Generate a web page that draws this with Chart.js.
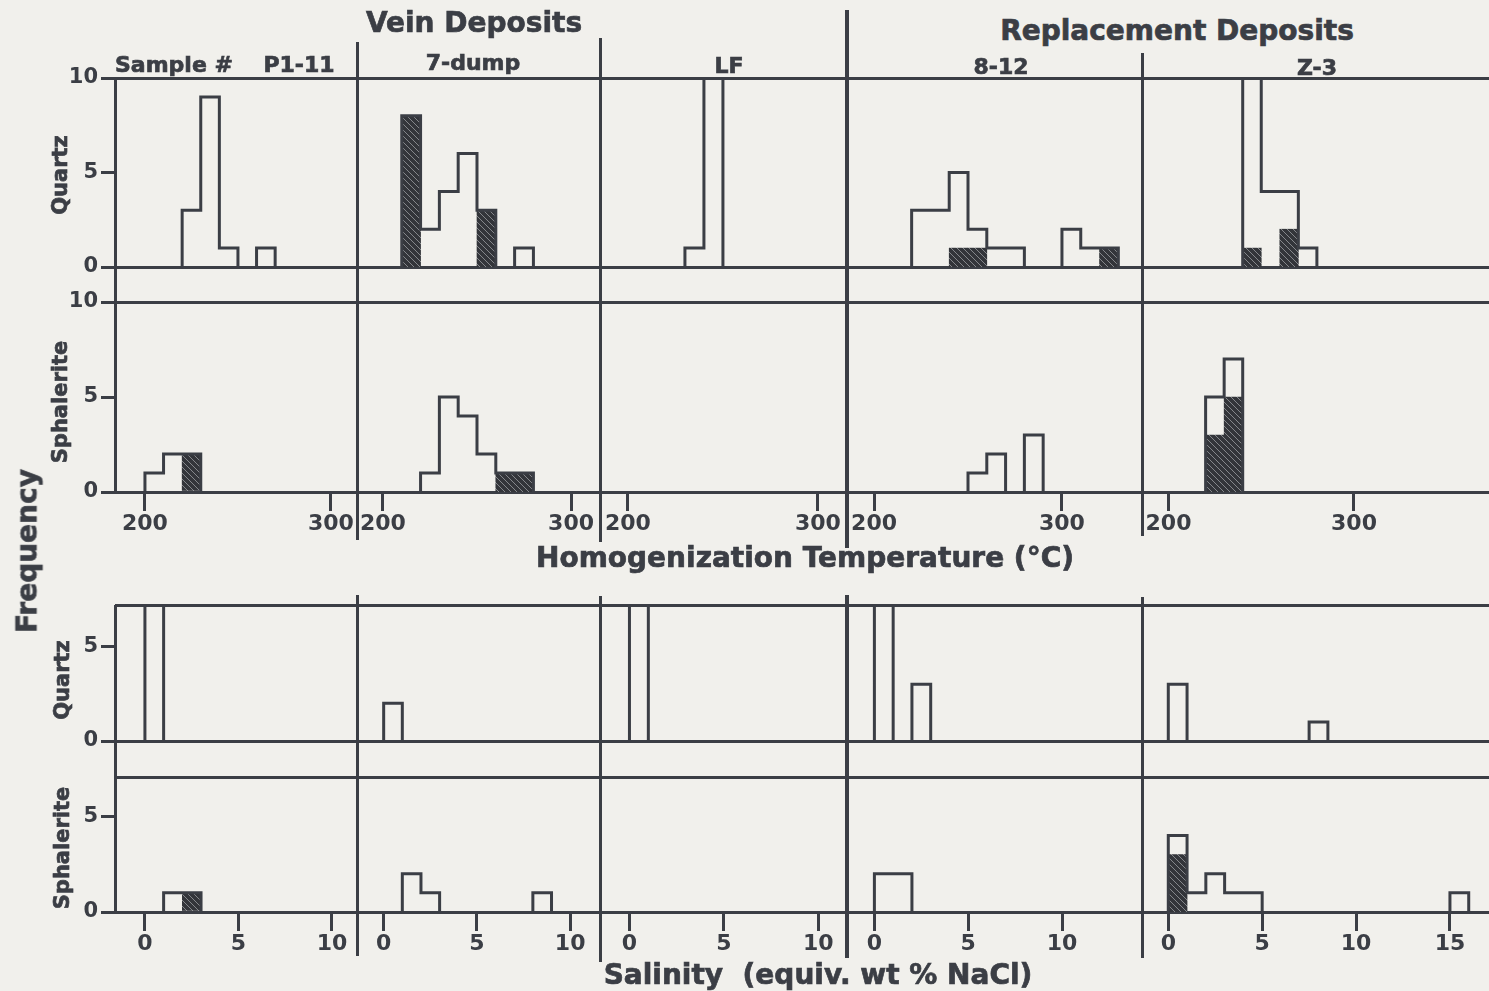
<!DOCTYPE html>
<html>
<head>
<meta charset="utf-8">
<title>Fluid inclusion histograms</title>
<script src="https://cdn.jsdelivr.net/npm/chart.js"></script>
<style>
  body { margin: 0; background: #f1f0ec; }
  #fig { position: relative; width: 1489px; height: 991px; overflow: hidden;
         font-family: "DejaVu Sans", sans-serif; font-weight: bold; color: #3b3e45; }
  #fig canvas { position: absolute; }
  .lbl { position: absolute; white-space: pre; transform: translate(-50%, -50%);
         -webkit-text-stroke: 0.7px #3b3e45; }
  .rot { transform: translate(-50%, -50%) rotate(-90deg); }
  .rule { position: absolute; background: #3b3e45; }
</style>
</head>
<body>
<div id="fig"></div>
<script>
const INK = "#3b3e45";

// ---- categories ----
const samples = ["P1-11", "7-dump", "LF", "8-12", "Z-3"];
const minerals = ["Quartz", "Sphalerite"];

// ---- tick labels ----
const tempTicks = [200, 300];
const salTicks = [0, 5, 10];
const salTicksZ3 = [0, 5, 10, 15];
const freqTicksT = [0, 5, 10];
const freqTicksS = [0, 5];

// ---- quartz, homogenization temperature (10 C bins: bin start, count, hatched part) ----
const qT_P1_bins = [220, 230, 240, 260];
const qT_P1_n    = [3, 9, 1, 1];
const qT_P1_hat  = [0, 0, 0, 0];
const qT_7d_bins = [210, 220, 230, 240, 250, 270];
const qT_7d_n    = [8, 2, 4, 6, 3, 1];
const qT_7d_hat  = [8, 0, 0, 0, 3, 0];
const qT_LF_bins = [230, 240];
const qT_LF_n    = [1, 10];
const qT_LF_hat  = [0, 0];
const qT_812_bins = [220, 230, 240, 250, 260, 270, 300, 310, 320];
const qT_812_n    = [3, 3, 5, 2, 1, 1, 2, 1, 1];
const qT_812_hat  = [0, 0, 1, 1, 0, 0, 0, 0, 1];
const qT_Z3_bins = [240, 250, 260, 270];
const qT_Z3_n    = [10, 4, 4, 1];
const qT_Z3_hat  = [1, 0, 2, 0];

// ---- sphalerite, homogenization temperature ----
const sT_P1_bins = [200, 210, 220];
const sT_P1_n    = [1, 2, 2];
const sT_P1_hat  = [0, 0, 2];
const sT_7d_bins = [220, 230, 240, 250, 260, 270];
const sT_7d_n    = [1, 5, 4, 2, 1, 1];
const sT_7d_hat  = [0, 0, 0, 0, 1, 1];
const sT_LF_bins = [];
const sT_LF_n    = [];
const sT_LF_hat  = [];
const sT_812_bins = [250, 260, 280];
const sT_812_n    = [1, 2, 3];
const sT_812_hat  = [0, 0, 0];
const sT_Z3_bins = [220, 230];
const sT_Z3_n    = [5, 7];
const sT_Z3_hat  = [3, 5];

// ---- quartz, salinity (1 wt% bins); 8 = off scale ----
const qS_P1_bins = [0];
const qS_P1_n    = [8];
const qS_P1_hat  = [0];
const qS_7d_bins = [0];
const qS_7d_n    = [2];
const qS_7d_hat  = [0];
const qS_LF_bins = [0];
const qS_LF_n    = [8];
const qS_LF_hat  = [0];
const qS_812_bins = [0, 2];
const qS_812_n    = [8, 3];
const qS_812_hat  = [0, 0];
const qS_Z3_bins = [0, 7.5];
const qS_Z3_n    = [3, 1];
const qS_Z3_hat  = [0, 0];

// ---- sphalerite, salinity ----
const sS_P1_bins = [1, 2];
const sS_P1_n    = [1, 1];
const sS_P1_hat  = [0, 1];
const sS_7d_bins = [1, 2, 8];
const sS_7d_n    = [2, 1, 1];
const sS_7d_hat  = [0, 0, 0];
const sS_LF_bins = [];
const sS_LF_n    = [];
const sS_LF_hat  = [];
const sS_812_bins = [0, 1];
const sS_812_n    = [2, 2];
const sS_812_hat  = [0, 0];
const sS_Z3_bins = [0, 1, 2, 3, 4, 15];
const sS_Z3_n    = [4, 1, 2, 1, 1, 1];
const sS_Z3_hat  = [3, 0, 0, 0, 0, 0];

// table of panels, row by row
const rowsData = [
  [[qT_P1_bins, qT_P1_n, qT_P1_hat], [qT_7d_bins, qT_7d_n, qT_7d_hat], [qT_LF_bins, qT_LF_n, qT_LF_hat],
   [qT_812_bins, qT_812_n, qT_812_hat], [qT_Z3_bins, qT_Z3_n, qT_Z3_hat]],
  [[sT_P1_bins, sT_P1_n, sT_P1_hat], [sT_7d_bins, sT_7d_n, sT_7d_hat], [sT_LF_bins, sT_LF_n, sT_LF_hat],
   [sT_812_bins, sT_812_n, sT_812_hat], [sT_Z3_bins, sT_Z3_n, sT_Z3_hat]],
  [[qS_P1_bins, qS_P1_n, qS_P1_hat], [qS_7d_bins, qS_7d_n, qS_7d_hat], [qS_LF_bins, qS_LF_n, qS_LF_hat],
   [qS_812_bins, qS_812_n, qS_812_hat], [qS_Z3_bins, qS_Z3_n, qS_Z3_hat]],
  [[sS_P1_bins, sS_P1_n, sS_P1_hat], [sS_7d_bins, sS_7d_n, sS_7d_hat], [sS_LF_bins, sS_LF_n, sS_LF_hat],
   [sS_812_bins, sS_812_n, sS_812_hat], [sS_Z3_bins, sS_Z3_n, sS_Z3_hat]]
];

// ---- layout ----
const colEdge = [115, 357, 600, 847, 1142, 1489];
const rowTop = [78, 302, 605, 777];
const rowBot = [267, 492, 741, 912];
const rowYMax = [10, 10, 7.2, 7.05];
const tMin = [183.9, 186.2, 185.3, 185.6, 185.7];
const tMax = [314, 315.4, 315.3, 342.6, 372.8];
const sMin = [-1.6, -1.43, -1.56, -1.46, -1.4];
const sMax = [11.34, 11.6, 11.52, 14.26, 17.08];
const PAD = 16, YW = 62, XH = 52;

const fig = document.getElementById("fig");
const xFont = { family: "DejaVu Sans", weight: "bold", size: 22 };
const yFont = { family: "DejaVu Sans", weight: "bold", size: 21 };

function hatch() {
  const c = document.createElement("canvas");
  c.width = 6; c.height = 6;
  const g = c.getContext("2d");
  g.fillStyle = "#33353a";
  g.fillRect(0, 0, 6, 6);
  g.strokeStyle = "#85878b";
  g.lineWidth = 1;
  g.beginPath();
  g.moveTo(0, 0); g.lineTo(6, 6);
  g.moveTo(-3, 3); g.lineTo(3, 9);
  g.moveTo(3, -3); g.lineTo(9, 3);
  g.stroke();
  return g.createPattern(c, "repeat");
}
const hatchFill = hatch();

// step outline of a histogram, broken where bins are not adjacent
function outline(bins, n, w) {
  const pts = [];
  let end = null;
  bins.forEach((s, i) => {
    if (end === null) {
      pts.push({ x: s, y: 0 });
    } else if (Math.abs(s - end) > 1e-6) {
      pts.push({ x: end, y: 0 });
      pts.push({ x: end, y: null });
      pts.push({ x: s, y: 0 });
    }
    pts.push({ x: s, y: n[i] });
    pts.push({ x: s + w, y: n[i] });
    end = s + w;
  });
  if (end !== null) pts.push({ x: end, y: 0 });
  return pts;
}

function addPanel(r, c) {
  const [bins, n, hat] = rowsData[r][c];
  const isT = r < 2;
  const w = isT ? 10 : 1;
  const xmin = isT ? tMin[c] : sMin[c];
  const xmax = isT ? tMax[c] : sMax[c];
  const xTicks = isT ? tempTicks : (c === 4 ? salTicksZ3 : salTicks);
  const yTicks = isT ? freqTicksT : freqTicksS;
  const showX = r === 1 || r === 3;
  const showY = c === 0;
  const areaW = colEdge[c + 1] - colEdge[c];
  const areaH = rowBot[r] - rowTop[r];
  const yw = showY ? YW : 0;
  const xh = showX ? XH : 0;

  const cv = document.createElement("canvas");
  cv.width = areaW + yw + 2 * PAD;
  cv.height = areaH + xh + 2 * PAD;
  cv.style.left = (colEdge[c] - yw - PAD) + "px";
  cv.style.top = (rowTop[r] - PAD) + "px";
  fig.appendChild(cv);

  const bars = [];
  bins.forEach((s, i) => { if (hat[i] > 0) bars.push({ x: s + w / 2, y: hat[i] }); });

  new Chart(cv, {
    type: "bar",
    data: {
      datasets: [
        { type: "line", data: outline(bins, n, w), borderColor: INK, borderWidth: 3,
          pointRadius: 0, fill: false, tension: 0, spanGaps: false,
          borderJoinStyle: "miter", borderCapStyle: "square" },
        { type: "bar", data: bars, backgroundColor: hatchFill, borderWidth: 0,
          barThickness: w * areaW / (xmax - xmin) }
      ]
    },
    options: {
      responsive: false,
      animation: false,
      events: [],
      layout: { padding: PAD },
      plugins: { legend: { display: false }, tooltip: { enabled: false } },
      scales: {
        x: {
          type: "linear", min: xmin, max: xmax, offset: false,
          grid: { display: true, offset: false, drawOnChartArea: false, drawTicks: showX,
                  tickLength: 19, color: INK, lineWidth: 3 },
          border: { display: true, color: INK, width: 3 },
          ticks: { display: showX, font: xFont, color: INK, padding: 0,
                   maxRotation: 0, autoSkip: false },
          afterBuildTicks: s => { s.ticks = xTicks.map(v => ({ value: v })); },
          afterFit: s => { s.height = xh; s.paddingLeft = 0; s.paddingRight = 0; }
        },
        y: {
          min: 0, max: rowYMax[r], display: showY, position: "left",
          grid: { display: true, drawOnChartArea: false, tickLength: 14, color: INK, lineWidth: 3 },
          border: { display: false },
          ticks: { font: yFont, color: INK, padding: 3 },
          afterBuildTicks: s => { s.ticks = yTicks.map(v => ({ value: v })); },
          afterFit: s => { s.width = yw; s.paddingTop = 0; s.paddingBottom = 0; }
        }
      }
    }
  });
}

for (let r = 0; r < 4; r++) {
  for (let c = 0; c < 5; c++) addPanel(r, c);
}

// frame rules
function rule(x, y, w, h) {
  const d = document.createElement("div");
  d.className = "rule";
  d.style.left = x + "px"; d.style.top = y + "px";
  d.style.width = w + "px"; d.style.height = h + "px";
  fig.appendChild(d);
}
rowTop.forEach(y => rule(colEdge[0], y - 1.5, colEdge[5] - colEdge[0], 3));
rule(colEdge[0] - 1.5, rowTop[0], 3, rowBot[1] - rowTop[0]);
rule(colEdge[0] - 1.5, rowTop[2], 3, rowBot[3] - rowTop[2]);
const sepTop = [42, 38, 10, 53];
const sepBot = [540, 542, 548, 536];
const sepTop2 = [595, 596, 595, 597];
const sepBot2 = [956, 962, 958, 958];
for (let i = 0; i < 4; i++) {
  const x = colEdge[i + 1];
  const wd = i === 2 ? 4 : 3;
  rule(x - wd / 2, sepTop[i], wd, sepBot[i] - sepTop[i]);
  rule(x - wd / 2, sepTop2[i], wd, sepBot2[i] - sepTop2[i]);
}

// text
function label(text, x, y, size, cls) {
  const d = document.createElement("div");
  d.className = "lbl" + (cls ? " " + cls : "");
  d.textContent = text;
  d.style.left = x + "px"; d.style.top = y + "px";
  d.style.fontSize = size + "px";
  fig.appendChild(d);
  return d;
}
label("Vein Deposits", 474, 22, 28);
label("Replacement Deposits", 1177, 30, 28);
const d0 = label("Sample #", 115, 64, 22);
d0.style.transform = "translate(0, -50%)";
const sampleX = [299, 473, 729, 1001, 1317];
const sampleY = [64, 62, 65, 66, 67];
samples.forEach((s, i) => label(s, sampleX[i], sampleY[i], 22));
label(minerals[0], 60, 175, 21, "rot");
label(minerals[1], 60, 402, 21, "rot");
label(minerals[0], 62, 680, 21, "rot");
label(minerals[1], 62, 848, 21, "rot");
label("Frequency", 27, 551, 28, "rot");
label("Homogenization Temperature (°C)", 805, 557, 28);
label("Salinity  (equiv. wt % NaCl)", 818, 974, 28);
</script>
</body>
</html>
